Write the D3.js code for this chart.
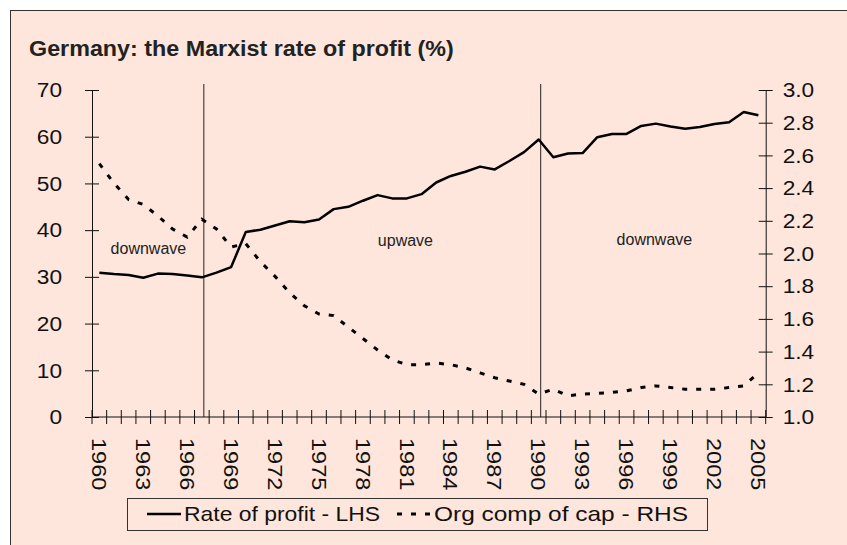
<!DOCTYPE html>
<html>
<head>
<meta charset="utf-8">
<script src="https://cdn.jsdelivr.net/npm/d3@7"></script>
<style>
  body { margin: 0; background: #fff; }
  svg { display: block; font-family: "Liberation Sans", Arial, sans-serif; }
</style>
</head>
<body>
<div id="chart"></div>
<script>

// ---------- data ----------
var years = [1960,1961,1962,1963,1964,1965,1966,1967,1968,1969,
             1970,1971,1972,1973,1974,1975,1976,1977,1978,1979,
             1980,1981,1982,1983,1984,1985,1986,1987,1988,1989,
             1990,1991,1992,1993,1994,1995,1996,1997,1998,1999,
             2000,2001,2002,2003,2004,2005];

// rate of profit, % (left axis)
var profitRate = [30.9,30.6,30.4,29.8,30.7,30.6,30.3,29.9,30.9,32.1,
                  39.6,40.1,41.0,41.9,41.7,42.3,44.5,45.0,46.3,47.5,
                  46.8,46.8,47.7,50.2,51.6,52.5,53.6,53.0,54.8,56.7,
                  59.4,55.6,56.4,56.5,59.9,60.6,60.6,62.3,62.8,62.2,
                  61.7,62.1,62.7,63.1,65.3,64.6];

// organic composition of capital (right axis)
var orgComp = [2.55,2.43,2.33,2.30,2.23,2.15,2.10,2.21,2.15,2.04,
               2.06,1.95,1.86,1.76,1.68,1.63,1.62,1.55,1.48,1.41,
               1.35,1.32,1.32,1.33,1.32,1.30,1.27,1.24,1.22,1.20,
               1.14,1.17,1.13,1.14,1.145,1.15,1.16,1.18,1.19,1.18,
               1.17,1.17,1.17,1.18,1.19,1.27];

var lhsTicks = [0,10,20,30,40,50,60,70];
var rhsTicks = [1.0,1.2,1.4,1.6,1.8,2.0,2.2,2.4,2.6,2.8,3.0];
var yearLabels = [1960,1963,1966,1969,1972,1975,1978,1981,1984,1987,1990,1993,1996,1999,2002,2005];

var waveBreaks = [1967, 1990];
var waveNames = ["downwave", "upwave", "downwave"];
var seriesNames = ["Rate of profit - LHS", "Org comp of cap - RHS"];
var chartTitle = "Germany: the Marxist rate of profit (%)";


// ---------- layout ----------
var W = 847, H = 545;
var plot = { left: 92, right: 765.7, top: 90, bottom: 417 };
var bg = "#fee6dc", ink = "#111";
var stretch = 1.08;   // the original text runs a little wide

var svg = d3.select("#chart").append("svg")
  .attr("width", W).attr("height", H);

// chart frame (right / bottom edges run off the page)
svg.append("rect")
  .attr("x", 10.5).attr("y", 10.5)
  .attr("width", W + 20).attr("height", H + 20)
  .attr("fill", bg).attr("stroke", "#333").attr("stroke-width", 1);

svg.append("text")
  .attr("transform", "translate(29,56) scale(1.06,1)")
  .attr("font-size", 22).attr("font-weight", "bold").attr("fill", "#222")
  .text(chartTitle);


// ---------- scales ----------
var x = d3.scaleBand().domain(years).range([plot.left, plot.right]);
var bw = x.bandwidth();
function cx(yr) { return x(yr) + bw / 2; }
// fractional year -> pixel (for annotations)
function xPos(yr) { return plot.left + (yr - years[0] + 0.5) * bw; }

var yL = d3.scaleLinear().domain([0, 70]).range([plot.bottom, plot.top]);
var yR = d3.scaleLinear().domain([1, 3]).range([plot.bottom, plot.top]);


// ---------- axes ----------
var axL = svg.append("g")
  .attr("transform", "translate(" + plot.left + ",0)")
  .call(d3.axisLeft(yL).tickValues(lhsTicks).tickSizeInner(7).tickSizeOuter(0)
        .tickPadding(30 / stretch - 7));
axL.selectAll(".tick line").attr("x1", 7);

var axR = svg.append("g")
  .attr("transform", "translate(" + plot.right + ",0)")
  .call(d3.axisRight(yR).tickValues(rhsTicks).tickFormat(d3.format(".1f"))
        .tickSizeInner(7).tickSizeOuter(0).tickPadding(17 / stretch - 7));
axR.selectAll(".tick line").attr("x1", -7);

[axL, axR].forEach(function (a) {
  a.select(".domain").attr("stroke", ink);
  a.selectAll(".tick line").attr("stroke", ink);
  a.selectAll(".tick text").attr("font-size", 21).attr("fill", ink)
    .attr("font-family", "Liberation Sans, Arial, sans-serif")
    .attr("transform", "scale(" + stretch + ",1)");
});

// category axis: ticks at band edges, crossing the line
var xAxis = svg.append("g");
xAxis.append("line")
  .attr("x1", plot.left).attr("x2", plot.right)
  .attr("y1", plot.bottom).attr("y2", plot.bottom)
  .attr("stroke", ink);
xAxis.selectAll("line.xt")
  .data(years.concat(["end"])).enter()
  .append("line").attr("class", "xt")
  .attr("x1", function (d) { return d === "end" ? plot.right : x(d); })
  .attr("x2", function (d) { return d === "end" ? plot.right : x(d); })
  .attr("y1", plot.bottom - 7).attr("y2", plot.bottom + 7)
  .attr("stroke", ink);
xAxis.selectAll("text")
  .data(yearLabels).enter()
  .append("text")
  .attr("transform", function (d) {
    return "translate(" + cx(d) + "," + (plot.bottom + 21) + ") rotate(90) scale(1.12,1)";
  })
  .attr("dy", "0.35em")
  .attr("font-size", 21).attr("fill", ink)
  .text(function (d) { return d; });


// ---------- wave dividers & labels ----------
svg.selectAll("line.wave")
  .data(waveBreaks).enter()
  .append("line").attr("class", "wave")
  .attr("x1", function (d) { return cx(d) + 2; })
  .attr("x2", function (d) { return cx(d) + 2; })
  .attr("y1", plot.top - 6).attr("y2", plot.bottom)
  .attr("stroke", "#222").attr("stroke-width", 1);

var wavePos = [[1963.35, 34.9], [1980.9, 36.6], [1997.9, 36.8]];
svg.selectAll("text.wave")
  .data(waveNames).enter()
  .append("text").attr("class", "wave")
  .attr("x", function (d, i) { return xPos(wavePos[i][0]); })
  .attr("y", function (d, i) { return yL(wavePos[i][1]); })
  .attr("text-anchor", "middle")
  .attr("font-size", 16).attr("fill", "#222")
  .text(function (d) { return d; });


// ---------- series ----------
var lineL = d3.line()
  .x(function (d, i) { return cx(years[i]); })
  .y(function (d) { return yL(d); });
var lineR = d3.line()
  .x(function (d, i) { return cx(years[i]); })
  .y(function (d) { return yR(d); });

svg.append("path").datum(orgComp)
  .attr("d", lineR)
  .attr("fill", "none").attr("stroke", "#000")
  .attr("stroke-width", 3).attr("stroke-dasharray", "5,9");

svg.append("path").datum(profitRate)
  .attr("d", lineL)
  .attr("fill", "none").attr("stroke", "#000")
  .attr("stroke-width", 2.5).attr("stroke-linejoin", "round");


// ---------- legend ----------
var lg = svg.append("g");
lg.append("rect")
  .attr("x", 127.5).attr("y", 498.5).attr("width", 580).attr("height", 32)
  .attr("fill", "none").attr("stroke", "#333");

var legendItems = [
  { name: seriesNames[0], x0: 147, w: 196, dash: null },
  { name: seriesNames[1], x0: 397, w: 254, dash: "5,9" }
];
legendItems.forEach(function (it) {
  lg.append("line")
    .attr("x1", it.x0).attr("x2", it.x0 + 34)
    .attr("y1", 514).attr("y2", 514)
    .attr("stroke", "#000").attr("stroke-width", it.dash ? 3 : 2.5)
    .attr("stroke-dasharray", it.dash);
  lg.append("text")
    .attr("x", it.x0 + 37).attr("y", 521)
    .attr("textLength", it.w).attr("lengthAdjust", "spacingAndGlyphs")
    .attr("font-size", 21).attr("fill", ink)
    .text(it.name);
});

</script>
</body>
</html>
